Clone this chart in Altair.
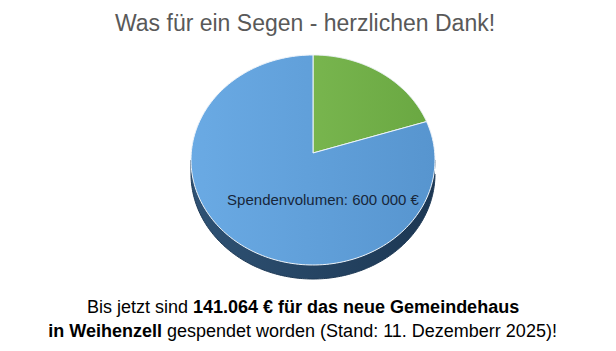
import altair as alt

# ---- data ----
slice_labels = ["Gespendet", "Spendenvolumen"]
slice_values = [141064, 600000]
label_text = "Spendenvolumen: 600 000 €"
title_text = "Was für ein Segen - herzlichen Dank!"
line1_normal = "Bis jetzt sind"
line1_bold = "141.064 € für das neue Gemeindehaus"
line2_bold = "in Weihenzell"
line2_normal = "gespendet worden (Stand: 11. Dezemberr 2025)!"

# ---- geometry / style ----
W, H = 616, 351
CX, CY, RX, RY = 313, 160, 122, 105
APEX_Y = 153
DEPTH = 14
N = 180
FONT = "Liberation Sans"

xs = alt.X("px:Q", scale=alt.Scale(domain=[0, W], nice=False, zero=False), axis=None)
ys = alt.Y("py:Q", scale=alt.Scale(domain=[0, H], nice=False, zero=False, reverse=True), axis=None)

total = sum(slice_values)
bounds = [0.0]
for v in slice_values:
    bounds.append(bounds[-1] + v / total)


def grad(c1, c2):
    return alt.Gradient(
        gradient="linear",
        stops=[alt.GradientStop(color=c1, offset=0), alt.GradientStop(color=c2, offset=1)],
        x1=0, x2=1, y1=0, y2=0,
    )


fills = [grad("#78b54e", "#6aa842"), grad("#6aaae4", "#5795cf")]


def slice_layer(start, end, fill):
    return (
        alt.Chart(alt.sequence(-1, N + 2, as_="i"))
        .transform_calculate(
            a=f"2*PI*({start} + ({end}-{start})*clamp(datum.i,0,{N})/{N})"
        )
        .transform_calculate(
            px=f"(datum.i < 0 || datum.i > {N}) ? {CX} : {CX} + {RX}*sin(datum.a)",
            py=f"(datum.i < 0 || datum.i > {N}) ? {APEX_Y} : {CY} - {RY}*cos(datum.a)",
        )
        .mark_line(fill=fill, stroke="#eef4fa", strokeWidth=1, strokeJoin="round")
        .encode(x=xs, y=ys, order="i:Q")
    )


side = (
    alt.Chart(alt.sequence(0, 2 * N + 2, as_="i"))
    .transform_calculate(
        a=f"datum.i <= {N} ? PI/2 + PI*datum.i/{N} : 3*PI/2 - PI*(datum.i-{N}-1)/{N}"
    )
    .transform_calculate(
        px=f"{CX} + {RX}*sin(datum.a)",
        py=f"{CY} - {RY}*cos(datum.a) + (datum.i <= {N} ? 0 : {DEPTH})",
    )
    .mark_line(fill=grad("#2f5274", "#1c3753"), stroke="#1f3a56", strokeWidth=1)
    .encode(x=xs, y=ys, order="i:Q")
)

slices = [slice_layer(bounds[k], bounds[k + 1], fills[k]) for k in range(len(slice_values))]


def txt(t, x, y, size, color, align="center", weight="normal"):
    return alt.Chart(alt.Data(values=[{}])).mark_text(
        text=t, font=FONT, fontSize=size, color=color, align=align,
        baseline="alphabetic", fontWeight=weight,
    ).encode(x=alt.value(x), y=alt.value(y))


texts = [
    txt(title_text, 305, 31, 23, "#595959"),
    txt(label_text, 323, 205, 15, "#17263a"),
    txt(line1_normal, 188, 313, 18, "#000000", align="right"),
    txt(line1_bold, 193, 313, 18, "#000000", align="left", weight="bold"),
    txt(line2_bold, 162, 337, 18, "#000000", align="right", weight="bold"),
    txt(line2_normal, 167, 337, 18, "#000000", align="left"),
]

chart = (
    alt.layer(side, *slices, *texts)
    .properties(width=W, height=H, padding=0, autosize="none", background="white")
    .configure_view(stroke=None)
)

chart.save("out.html", embed_options={"renderer": "svg", "actions": False})
